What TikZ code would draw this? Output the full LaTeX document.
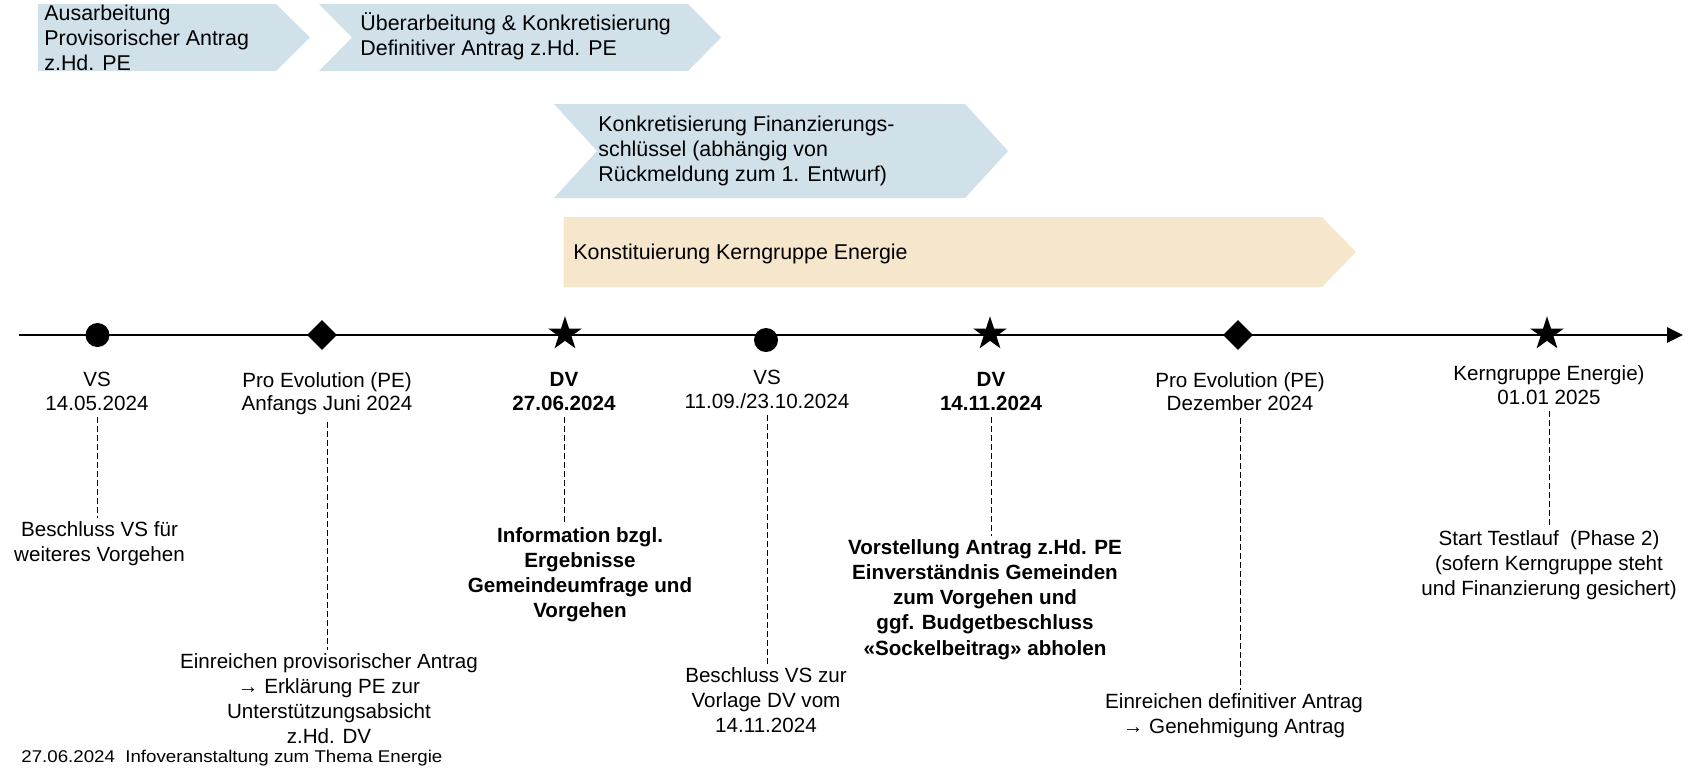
\documentclass[tikz,border=0pt]{standalone}
\usepackage{fontspec}
\setmainfont{Liberation Sans}
\newfontfamily\infofont[FakeStretch=1.1]{Liberation Sans}
\usetikzlibrary{arrows.meta,shapes.geometric}
\definecolor{phaseblue}{RGB}{208,225,234}
\definecolor{phasesand}{RGB}{246,230,203}

\begin{document}
\begin{tikzpicture}[x=0.5pt,y=-0.5pt,
  phasebox/.style={fill=phaseblue},
  kernbox/.style={fill=phasesand},
  phasetext/.style={anchor=north west,inner sep=0pt,align=left,font=\fontsize{10.7}{12.4}\selectfont},
  dotmark/.style={circle,fill=black,inner sep=0pt,minimum size=12pt},
  diamondmark/.style={diamond,fill=black,inner sep=0pt,minimum size=15pt},
  starmark/.style={star,star points=5,star point ratio=2.6,fill=black,inner sep=0pt,minimum size=17.7pt},
  datelabel/.style={anchor=north,align=center,inner xsep=1pt,inner ysep=3pt,font=\fontsize{10.3}{11.8}\selectfont},
  datebold/.style={datelabel,font=\fontsize{10.3}{11.8}\selectfont\bfseries},
  notelabel/.style={anchor=north,align=center,inner sep=1.5pt,font=\fontsize{10.3}{12.6}\selectfont},
  notebold/.style={notelabel,font=\fontsize{10.3}{12.6}\selectfont\bfseries},
  leader/.style={dash pattern=on 3pt off 1.5pt,line width=0.5pt},
  timeline/.style={line width=1.4pt,-{Triangle[length=8pt,width=7.5pt]}}]
\useasboundingbox (0,0) rectangle (1696,768);

\fill[phasebox] (38,4) -- (276,4) -- (310,37.5) -- (276,71) -- (38,71) -- cycle;
\fill[phasebox] (319,4) -- (688,4) -- (721,37.5) -- (688,71) -- (319,71) -- (352,37.5) -- cycle;
\fill[phasebox] (554,104) -- (965,104) -- (1008,151) -- (965,198) -- (554,198) -- (597,151) -- cycle;
\fill[kernbox] (563.5,217) -- (1322,217) -- (1356,252) -- (1322,287) -- (563.5,287) -- cycle;

\node[phasetext] (ph1) at (44,4.5) {Ausarbeitung\\Provisorischer Antrag\\z.Hd. PE};
\node[phasetext] (ph2) at (360,12) {Überarbeitung \& Konkretisierung\\Definitiver Antrag z.Hd. PE};
\node[phasetext] (ph3) at (598,115.5) {Konkretisierung Finanzierungs-\\schlüssel (abhängig von\\Rückmeldung zum 1. Entwurf)};
\node[phasetext,anchor=base west] (ph4) at (573,259) {Konstituierung Kerngruppe Energie};

\coordinate (t0) at (19,335);
\coordinate (t1) at (1683,335);
\draw[timeline] (t0) -- (t1);

\node[dotmark] (m1) at (97.5,335) {};
\node[diamondmark] (m2) at (322,335) {};
\node[starmark] (m3) at (565,334) {};
\node[dotmark] (m4) at (766,340) {};
\node[starmark] (m5) at (990,334) {};
\node[diamondmark] (m6) at (1238,335) {};
\node[starmark] (m7) at (1547,334) {};

\node[datelabel] (l1) at (97,366) {VS\\14.05.2024};
\node[datelabel] (l2) at (327,366) {Pro Evolution (PE)\\Anfangs Juni 2024};
\node[datebold] (l3) at (564,366) {DV\\27.06.2024};
\node[datelabel] (l4) at (767,364) {VS\\11.09./23.10.2024};
\node[datebold] (l5) at (991,366) {DV\\14.11.2024};
\node[datelabel] (l6) at (1240,366) {Pro Evolution (PE)\\Dezember 2024};
\node[datelabel] (l7) at (1549,359.5) {Kerngruppe Energie)\\01.01 2025};

\node[notelabel] (d1) at (99.5,518) {Beschluss VS für\\weiteres Vorgehen};
\node[notelabel] (d2) at (329,650) {Einreichen provisorischer Antrag\\→ Erklärung PE zur\\Unterstützungsabsicht\\z.Hd. DV};
\node[notebold] (d3) at (580,524) {Information bzgl.\\Ergebnisse\\Gemeindeumfrage und\\Vorgehen};
\node[notelabel] (d4) at (766,664) {Beschluss VS zur\\Vorlage DV vom\\14.11.2024};
\node[notebold] (d5) at (985,536) {Vorstellung Antrag z.Hd. PE\\Einverständnis Gemeinden\\zum Vorgehen und\\ggf. Budgetbeschluss\\«Sockelbeitrag» abholen};
\node[notelabel] (d6) at (1234,690) {Einreichen definitiver Antrag\\→ Genehmigung Antrag};
\node[notelabel] (d7) at (1549,527) {Start Testlauf~ (Phase 2)\\(sofern Kerngruppe steht\\und Finanzierung gesichert)};

\draw[leader] (l1.south) -- (l1.south |- d1.north);
\draw[leader] (l2.south) -- (l2.south |- d2.north);
\draw[leader] (l3.south) -- (l3.south |- d3.north);
\draw[leader] (l4.south) -- (l4.south |- d4.north);
\draw[leader] (l5.south) -- (l5.south |- d5.north);
\draw[leader] (l6.south) -- (l6.south |- d6.north);
\draw[leader] (l7.south) -- (l7.south |- d7.north);

\node[anchor=base west,inner sep=0pt,font=\infofont\fontsize{8.5}{10}\selectfont] (info) at (21,762) {27.06.2024~~Infoveranstaltung zum Thema Energie};
\end{tikzpicture}
\end{document}
